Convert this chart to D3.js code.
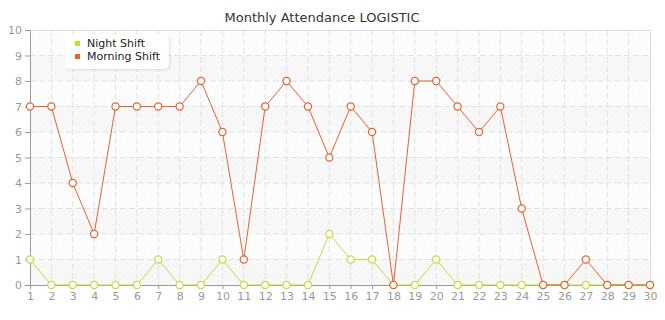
<!DOCTYPE html>
<html>
<head>
<meta charset="utf-8">
<script src="https://cdn.jsdelivr.net/npm/d3@7"></script>
<style>
  body { margin: 0; background: #fff; }
  text { font-family: "DejaVu Sans", Verdana, sans-serif; }
</style>
</head>
<body>
<div id="chart"></div>
<script>
// days of the month
const days = d3.range(1, 31);
const nightShift = [1, 0, 0, 0, 0, 0, 1, 0, 0, 1, 0, 0, 0, 0, 2, 1, 1, 0, 0, 1, 0, 0, 0, 0, 0, 0, 0, 0, 0, 0];
const morningShift = [7, 7, 4, 2, 7, 7, 7, 7, 8, 6, 1, 7, 8, 7, 5, 7, 6, 0, 8, 8, 7, 6, 7, 3, 0, 0, 1, 0, 0, 0];
const yTicks = d3.range(0, 11);
const seriesNames = ["Night Shift", "Morning Shift"];
const seriesColors = ["#c3dc3a", "#e6622e"];

const width = 665;
const height = 320;
const margin = { top: 30, right: 15, bottom: 35, left: 30 };
const innerW = width - margin.left - margin.right;
const innerH = height - margin.top - margin.bottom;

const svg = d3.select("#chart")
  .append("svg")
  .attr("width", width)
  .attr("height", height);

// hatch pattern for the plot background
const defs = svg.append("defs");
defs.append("pattern")
  .attr("id", "hatch")
  .attr("patternUnits", "userSpaceOnUse")
  .attr("width", 4)
  .attr("height", 4)
  .attr("patternTransform", "rotate(45)")
  .append("line")
  .attr("x1", 0).attr("y1", 0)
  .attr("x2", 0).attr("y2", 4)
  .attr("stroke", "#efefef")
  .attr("stroke-width", 1);

const shadow = defs.append("filter").attr("id", "shadow")
  .attr("x", "-20%").attr("y", "-20%").attr("width", "140%").attr("height", "160%");
shadow.append("feDropShadow")
  .attr("dx", 1).attr("dy", 1).attr("stdDeviation", 1.2)
  .attr("flood-color", "#000").attr("flood-opacity", 0.12);

const g = svg.append("g")
  .attr("transform", "translate(" + margin.left + "," + margin.top + ")");

const x = d3.scaleLinear().domain([1, 30]).range([0, innerW]);
const y = d3.scaleLinear().domain([0, 10]).range([innerH, 0]);

// background
g.append("rect")
  .attr("width", innerW)
  .attr("height", innerH)
  .attr("fill", "url(#hatch)");

// alternate bands
g.selectAll(".band")
  .data(yTicks.filter(d => d % 2 === 0 && d < 10))
  .enter()
  .append("rect")
  .attr("x", 0)
  .attr("y", d => y(d + 1))
  .attr("width", innerW)
  .attr("height", d => y(d) - y(d + 1))
  .attr("fill", "#f4f4f4")
  .attr("fill-opacity", 0.6);

// grid
g.selectAll(".hgrid")
  .data(yTicks.slice(1, 10))
  .enter()
  .append("line")
  .attr("x1", 0).attr("x2", innerW)
  .attr("y1", d => y(d)).attr("y2", d => y(d))
  .attr("stroke", "#e2e2e2")
  .attr("stroke-dasharray", "6,3");

g.selectAll(".vgrid")
  .data(days.slice(1, 29))
  .enter()
  .append("line")
  .attr("x1", d => x(d)).attr("x2", d => x(d))
  .attr("y1", 0).attr("y2", innerH)
  .attr("stroke", "#e2e2e2")
  .attr("stroke-dasharray", "6,3");

// frame top / right
g.append("path")
  .attr("d", "M0,0.5H" + (innerW + 0.5) + "V" + innerH)
  .attr("fill", "none")
  .attr("stroke", "#dddddd");

// axes
const yAxis = g.append("g")
  .call(d3.axisLeft(y).tickValues(yTicks).tickSize(5).tickPadding(3));
const xAxis = g.append("g")
  .attr("transform", "translate(0," + innerH + ")")
  .call(d3.axisBottom(x).tickValues(days).tickSize(4).tickPadding(3));

[yAxis, xAxis].forEach(a => {
  a.select(".domain").attr("stroke", "#999");
  a.selectAll(".tick line").attr("stroke", "#999");
  a.selectAll(".tick text")
    .attr("fill", "#999")
    .style("font-size", "11px")
    .style("font-family", "'DejaVu Sans', Verdana, sans-serif");
});

// series
const series = [nightShift, morningShift];
const line = d3.line()
  .x((d, i) => x(days[i]))
  .y(d => y(d));

series.forEach((values, s) => {
  g.append("path")
    .datum(values)
    .attr("fill", "none")
    .attr("stroke", seriesColors[s])
    .attr("stroke-width", 1)
    .attr("d", line);

  g.selectAll(".pt" + s)
    .data(values)
    .enter()
    .append("circle")
    .attr("cx", (d, i) => x(days[i]))
    .attr("cy", d => y(d))
    .attr("r", 3.6)
    .attr("fill", "#fff")
    .attr("stroke", seriesColors[s])
    .attr("stroke-width", 1.2);
});

// title
svg.append("text")
  .attr("x", 322)
  .attr("y", 22)
  .attr("text-anchor", "middle")
  .attr("fill", "#333")
  .style("font-size", "13px")
  .text("Monthly Attendance LOGISTIC");

// legend
const legend = svg.append("g").attr("transform", "translate(65,34)");
legend.append("rect")
  .attr("width", 104)
  .attr("height", 35)
  .attr("rx", 5)
  .attr("fill", "#fff")
  .attr("filter", "url(#shadow)");

seriesNames.forEach((name, i) => {
  legend.append("rect")
    .attr("x", 10)
    .attr("y", 7 + i * 13)
    .attr("width", 5)
    .attr("height", 5)
    .attr("fill", seriesColors[i]);
  legend.append("text")
    .attr("x", 22)
    .attr("y", 13 + i * 13)
    .attr("fill", "#222")
    .style("font-size", "11px")
    .text(name);
});
</script>
</body>
</html>
